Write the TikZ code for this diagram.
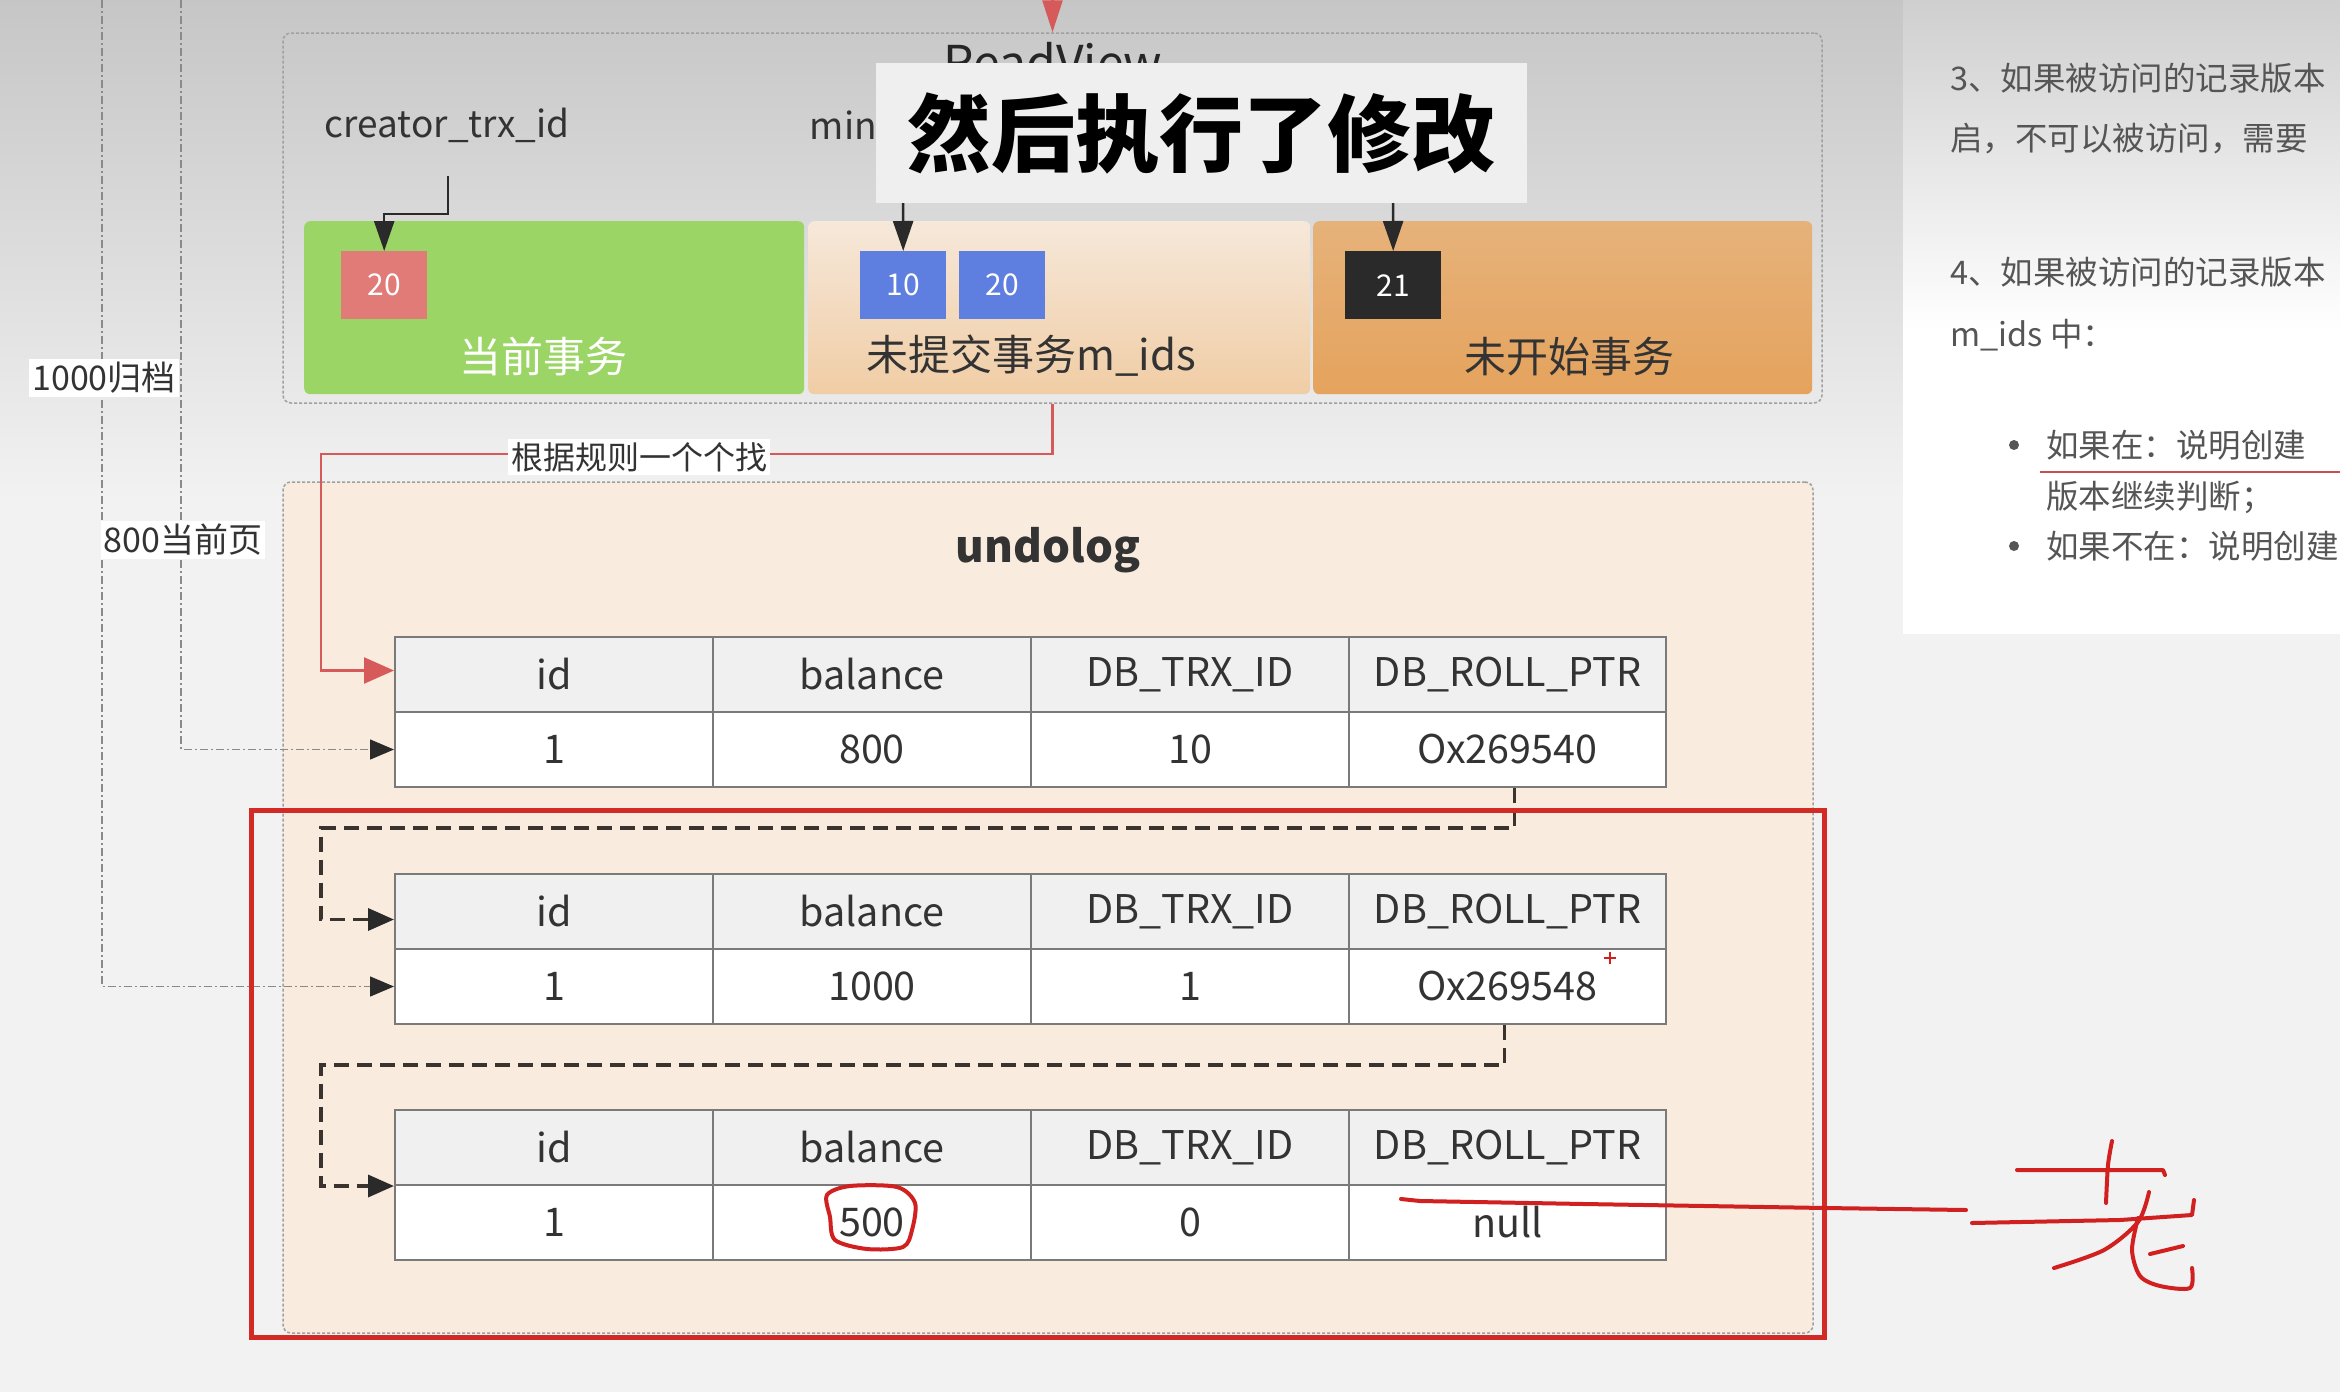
\documentclass[tikz,border=0pt]{standalone}
\usepackage{fontspec}
\setmainfont{Noto Sans CJK SC}
\usetikzlibrary{arrows.meta,calc}
\definecolor{bgc}{HTML}{F2F2F2}
\definecolor{topgray}{HTML}{C6C6C6}
\definecolor{paneltop}{HTML}{CFCFCF}
\definecolor{greenbox}{HTML}{9BD566}
\definecolor{salmon}{HTML}{E07B78}
\definecolor{bluebox}{HTML}{5F7FE0}
\definecolor{blackbox}{HTML}{2A2A2A}
\definecolor{creamA}{HTML}{F6E8DA}
\definecolor{creamB}{HTML}{F0CDA5}
\definecolor{orangeA}{HTML}{E6B27A}
\definecolor{orangeB}{HTML}{E5A35D}
\definecolor{undofill}{HTML}{F9ECDF}
\definecolor{hdrfill}{HTML}{F0F0F0}
\definecolor{gridc}{HTML}{7A7A7A}
\definecolor{redline}{HTML}{D65A5A}
\definecolor{hlred}{HTML}{D42A25}
\definecolor{inkred}{HTML}{D02020}
\definecolor{txt}{HTML}{333333}
\definecolor{paneltxt}{HTML}{555555}
\definecolor{arrowc}{HTML}{2A2A2A}
\definecolor{dotgray}{HTML}{8A8A8A}
\definecolor{dashc}{HTML}{3B342E}
\definecolor{contc}{HTML}{A0A0A0}
\definecolor{capfill}{HTML}{EFEFEF}
\definecolor{ulred}{HTML}{C85050}
\tikzset{
  hcell/.style={draw=gridc, line width=2pt, fill=hdrfill, minimum width=318pt, minimum height=75pt, inner sep=0pt, anchor=north west, font=\fontsize{39.5}{47}\selectfont, text=txt},
  dcell/.style={hcell, fill=white},
  blk/.style={draw=arrowc, line width=2.5pt, -{Triangle[length=30pt,width=20pt]}},
  redarr/.style={draw=redline, line width=2.5pt, -{Triangle[length=30pt,width=26pt]}},
  dotc/.style={draw=dotgray, line width=1.5pt, dash pattern=on 8pt off 3pt on 2pt off 3pt, -{Triangle[length=24pt,width=20pt,color=arrowc]}},
  dconn/.style={draw=dashc, line width=3.5pt, dash pattern=on 15pt off 8pt, -{Triangle[length=26pt,width=22pt,color=arrowc]}},
  ink/.style={draw=inkred, line width=4pt, line cap=round, line join=round},
  lbl/.style={fill=white, inner sep=3pt, font=\fontsize{34}{40}\selectfont, text=txt},
  idbox/.style={minimum width=86pt, minimum height=68pt, inner sep=0pt, anchor=north west, text=white, font=\fontsize{30}{36}\selectfont},
  zone/.style={rounded corners=6pt, minimum height=173pt, inner sep=0pt, anchor=north west},
  boxlbl/.style={font=\fontsize{42}{50}\selectfont},
  cont/.style={draw=contc, line width=1.5pt, dash pattern=on 3pt off 2pt, rounded corners=8pt, inner sep=0pt},
  paneltext/.style={anchor=west, inner sep=0pt, text=paneltxt, font=\fontsize{32.5}{39}\selectfont},
}
\newcommand{\undotab}[6]{%
  \node[hcell] (#1h1) at (394,#2) {id};
  \node[hcell] (#1h2) at (712,#2) {balance};
  \node[hcell] (#1h3) at (1030,#2) {DB\_TRX\_ID};
  \node[hcell, minimum width=317pt] (#1h4) at (1348,#2) {DB\_ROLL\_PTR};
  \node[dcell] (#1d1) at (394,#2+75) {#3};
  \node[dcell] (#1d2) at (712,#2+75) {#4};
  \node[dcell] (#1d3) at (1030,#2+75) {#5};
  \node[dcell, minimum width=317pt] (#1d4) at (1348,#2+75) {#6};
}
\begin{document}
\begin{tikzpicture}[x=1pt,y=-1pt]
\useasboundingbox (0,0) rectangle (2340,1392);
% background
\fill[bgc] (0,0) rectangle (2340,1392);
\shade[top color=topgray, bottom color=bgc] (0,0) rectangle (2340,500);
% right panel
\shade[top color=paneltop, bottom color=white] (1903,0) rectangle (2340,330);
\fill[white] (1903,329) rectangle (2340,634);

% ReadView container
\node[cont, minimum width=1539pt, minimum height=370pt] (rv) at (1052.5,218) {};
\node[anchor=base, font=\fontsize{48}{56}\selectfont, text=black!85] (rvt) at (1053,80) {ReadView};
\coordinate (rvin) at (1052.5,0);
\draw[redarr, -{Triangle[length=32pt,width=20pt]}] (rvin) -- (rv.north);

% zones
\node[zone, fill=greenbox, minimum width=500pt] (cur) at (304,221) {};
\node[zone, top color=creamA, bottom color=creamB, minimum width=502pt] (unc) at (808,221) {};
\node[zone, top color=orangeA, bottom color=orangeB, minimum width=499pt] (nst) at (1313,221) {};
\node[boxlbl, text=white] (curl) at (543,356) {当前事务};
\node[boxlbl, text=txt] (uncl) at (1031,356) {未提交事务m\_ids};
\node[boxlbl, text=txt] (nstl) at (1569,357) {未开始事务};

% id boxes
\node[idbox, fill=salmon] (r20) at (341,251) {20};
\node[idbox, fill=bluebox] (b10) at (860,251) {10};
\node[idbox, fill=bluebox] (b20) at (959,251) {20};
\node[idbox, fill=blackbox, minimum width=96pt] (k21) at (1345,251) {21};

% pointer labels and arrows
\node[font=\fontsize{37}{44}\selectfont, text=txt] (ctext) at (447,125) {creator\_trx\_id};
\node[anchor=east, inner sep=0pt, font=\fontsize{37}{44}\selectfont, text=txt] (mtext) at (877,125) {min};
\coordinate (cstart) at (448,176);
\coordinate (minstart) at (903,190);
\coordinate (maxstart) at (1393,190);
\draw[blk] (cstart) -- ++(0,38) -| (r20.north);
\draw[blk] (minstart) -- (b10.north);
\draw[blk] (maxstart) -- (k21.north);

% undolog container
\node[cont, fill=undofill, minimum width=1530pt, minimum height=851pt] (undo) at (1048,907.5) {};
\node[anchor=base, font=\fontsize{44}{52}\selectfont\bfseries, text=txt] (undot) at (1048,562) {undolog};

% tables
\undotab{t1}{636}{1}{800}{10}{Ox269540}
\undotab{t2}{873}{1}{1000}{1}{Ox269548}
\undotab{t3}{1109}{1}{500}{0}{null}

% red connector
\draw[redarr] (rv.south) |- (321,454) |- ([yshift=4pt]t1h1.west);
\node[lbl, font=\fontsize{32}{38}\selectfont] (rule) at (639,457) {根据规则一个个找};

% roll pointer chains
\draw[dconn] ([xshift=7pt]t1d4.south) |- (321,828) |- ([yshift=-8pt]t2h1.west);
\draw[dconn] ([xshift=-3pt]t2d4.south) |- (321,1065) |- (t3h1.south west);

% dotted page lines
\coordinate (g1) at (102,0);
\coordinate (g2) at (181,0);
\draw[dotc] (g1) |- (t2d1.west);
\draw[dotc] (g2) |- (t1d1.west);
\node[lbl] (l1000) at (104,378) {1000归档};
\node[lbl] (l800) at (183,540) {800当前页};

% caption overlay
\node[fill=capfill, minimum width=651pt, minimum height=140pt, inner sep=0pt, font=\fontsize{84}{90}\selectfont\bfseries, text=black] (cap) at (1201.5,133) {然后执行了修改};

% right panel text
\begin{scope}
\clip (1903,0) rectangle (2340,634);
\node[paneltext] (p1) at (1950,78) {3、如果被访问的记录版本};
\node[paneltext] (p2) at (1950,139) {启，不可以被访问，需要};
\node[paneltext] (p3) at (1950,272) {4、如果被访问的记录版本};
\node[paneltext] (p4) at (1950,335) {m\_ids 中：};
\fill[paneltxt] (2014,445) circle (5pt);
\node[paneltext] (p5) at (2046,445) {如果在：说明创建};
\draw[ulred, line width=2pt] (2040,472) -- (2340,472);
\node[paneltext] (p6) at (2046,497) {版本继续判断；};
\fill[paneltxt] (2014,546) circle (5pt);
\node[paneltext] (p7) at (2046,546) {如果不在：说明创建};
\end{scope}

% highlight rectangle
\draw[hlred, line width=5pt] (251,810) rectangle (1824,1337);

% hand-drawn ink
\draw[ink] plot[smooth cycle] coordinates {(827,1195) (850,1186) (897,1187) (915,1203) (912,1230) (903,1247) (867,1249) (835,1240) (830,1217)};
\draw[ink] (1401,1199) -- (1420,1201) -- (1584,1204) -- (1825,1208) -- (1966,1210);
\draw[ink] (2017,1170) -- (2163,1170) -- (2165,1175);
\draw[ink] plot[smooth] coordinates {(2112,1141) (2108,1165) (2106,1203)};
\draw[ink] (1972,1223) -- (2120,1220) -- (2192,1215) -- (2194,1200);
\draw[ink] plot[smooth] coordinates {(2149,1192) (2138,1222) (2104,1250) (2054,1268)};
\draw[ink] plot[smooth] coordinates {(2138,1218) (2132,1250) (2140,1276) (2160,1286) (2190,1288) (2192,1268)};
\draw[ink] (2150,1254) -- (2183,1246);
\draw[inkred, line width=2pt] (1604,958) -- (1616,958) (1610,952) -- (1610,964);
\end{tikzpicture}
\end{document}
